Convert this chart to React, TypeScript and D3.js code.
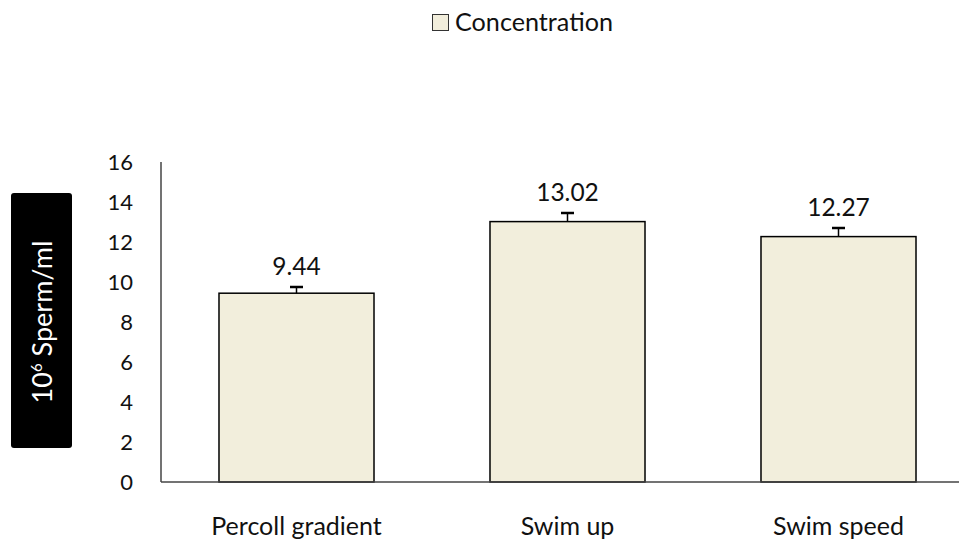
import React from "react";
import * as d3 from "d3";

const categories = ["Percoll gradient", "Swim up", "Swim speed"];
const values = [9.44, 13.02, 12.27];
const errors = [0.31, 0.43, 0.43];
const yTicks = [0, 2, 4, 6, 8, 10, 12, 14, 16];
const seriesName = "Concentration";
const yTitleMain = "Sperm/ml";

const W = 959;
const H = 541;
const FONT = "Lato, 'Open Sans', sans-serif";
const FILL = "#f2eedc";

export default function App() {
  const x = d3
    .scaleBand<string>()
    .domain(categories)
    .range([161, 974])
    .paddingInner(0.428)
    .paddingOuter(0.214);
  const y = d3.scaleLinear().domain([0, 16]).range([482, 162]);
  const bw = x.bandwidth();

  return (
    <svg width={W} height={H} style={{ position: "absolute", left: 0, top: 0 }} fontFamily={FONT}>
      <rect x={0} y={0} width={W} height={H} fill="#fff" />
      {/* legend */}
      <rect x={432.5} y={14.5} width={16} height={16} fill={FILL} stroke="#333" strokeWidth={1} />
      <text x={455} y={31} fontSize={25} fill="#111" textLength={158} lengthAdjust="spacingAndGlyphs">{seriesName}</text>

      {/* y tick labels */}
      {yTicks.map((t) => (
        <text key={t} x={133} y={y(t)} dy="0.36em" textAnchor="end" fontSize={22} fill="#111">
          {t}
        </text>
      ))}

      {/* y title box */}
      <rect x={11} y={193} width={61} height={255} rx={3} fill="#000" />
      <text
        transform={`translate(52,322) rotate(-90)`}
        textAnchor="middle"
        fontSize={27}
        fill="#fff"
      >
        10<tspan dy={-10} fontSize={15}>6</tspan>
        <tspan dy={10}> {yTitleMain}</tspan>
      </text>

      {/* bars */}
      {categories.map((c, i) => {
        const x0 = x(c)!;
        const cx = x0 + bw / 2;
        const top = y(values[i]);
        const eTop = y(values[i] + errors[i]);
        return (
          <g key={c}>
            <rect x={x0} y={top} width={bw} height={y(0) - top} fill={FILL} stroke="#000" strokeWidth={1.5} />
            <line x1={cx} x2={cx} y1={top} y2={eTop} stroke="#000" strokeWidth={1.5} />
            <line x1={cx - 6.5} x2={cx + 6.5} y1={eTop} y2={eTop} stroke="#000" strokeWidth={2.5} />
            <text x={cx} y={eTop - 12} textAnchor="middle" fontSize={24.5} fill="#111">
              {values[i].toFixed(2)}
            </text>
            <text x={cx} y={535} textAnchor="middle" fontSize={25} fill="#111">
              {c}
            </text>
          </g>
        );
      })}

      {/* axes */}
      <line x1={161} x2={161} y1={162} y2={482} stroke="#444" strokeWidth={1.5} />
      <line x1={161} x2={959} y1={482} y2={482} stroke="#444" strokeWidth={1.5} />
    </svg>
  );
}
